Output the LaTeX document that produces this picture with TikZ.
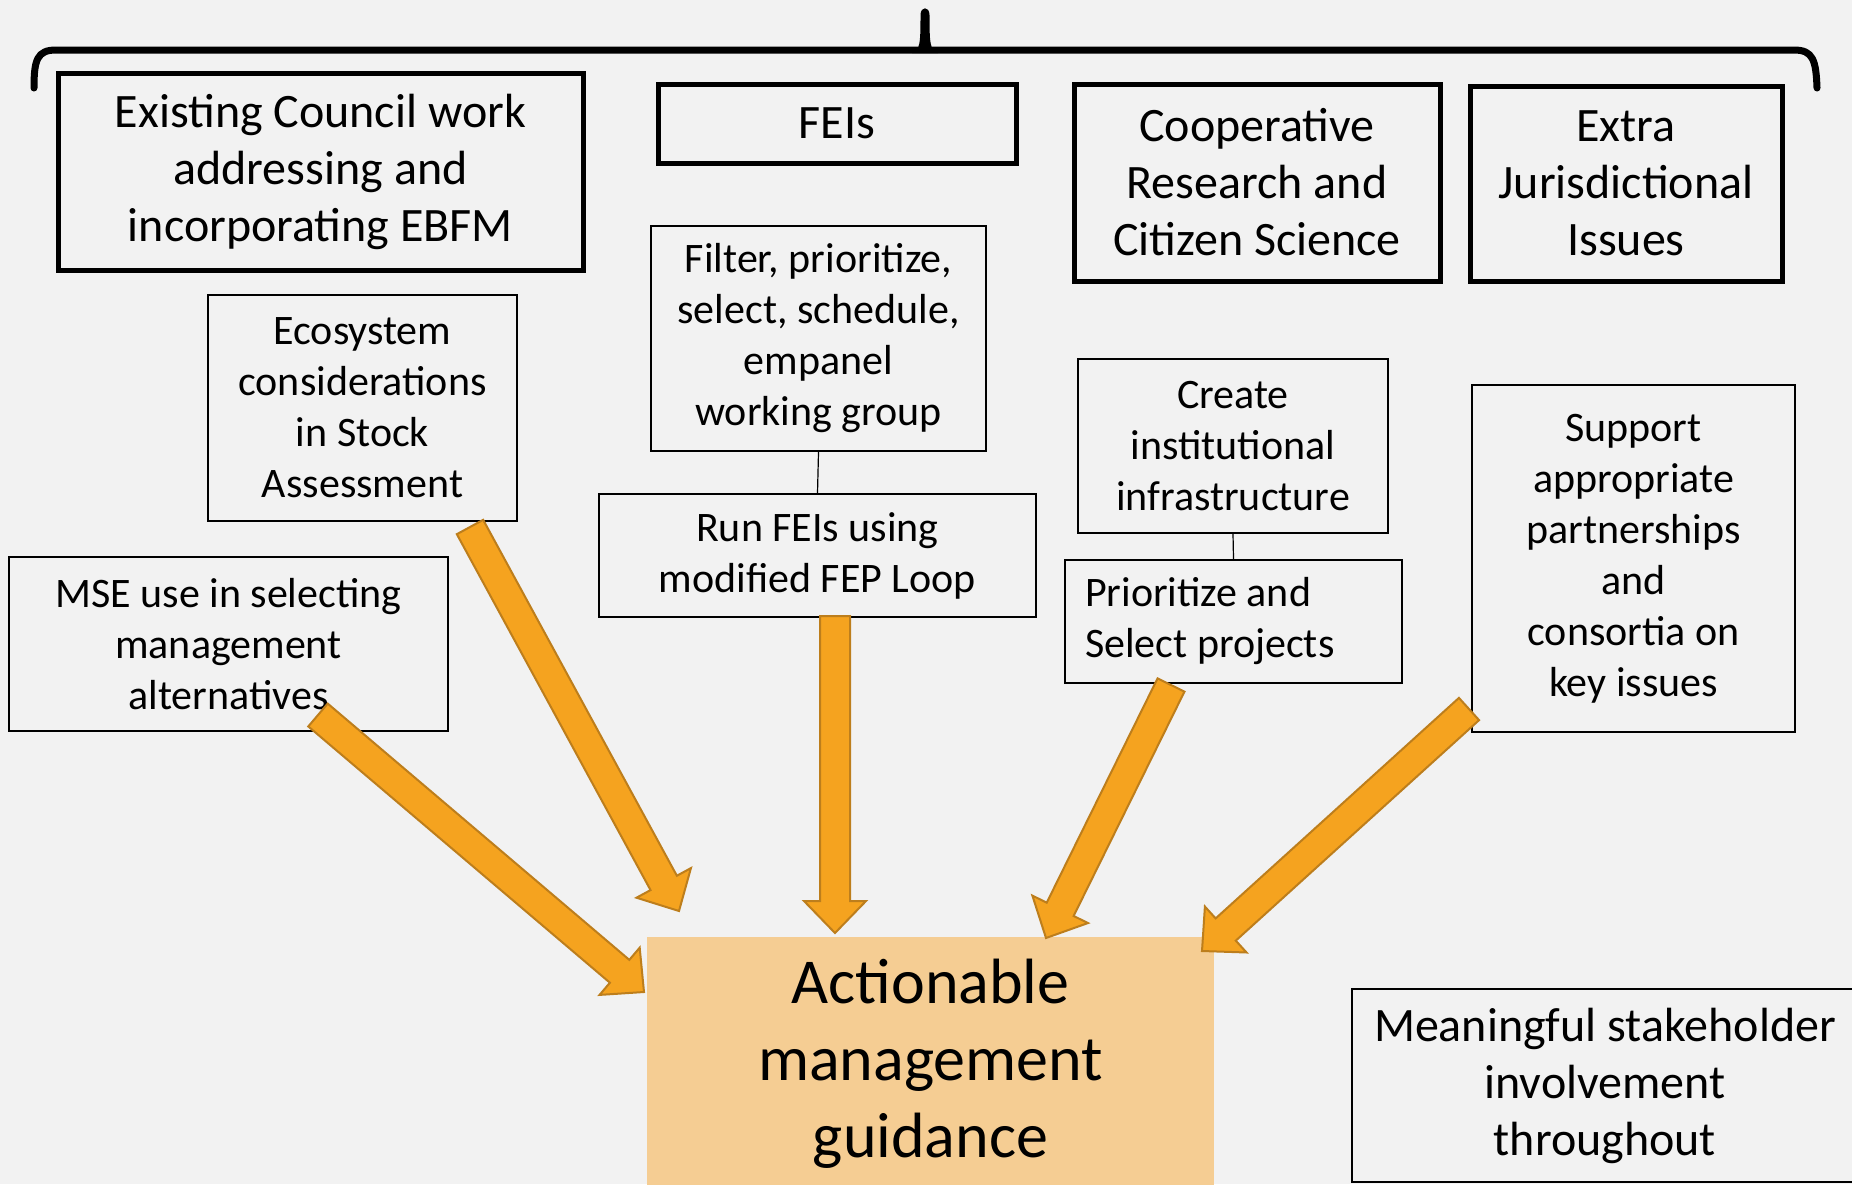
\documentclass[tikz,border=0pt]{standalone}
\usepackage{fontspec}
\setmainfont{Carlito}
\usetikzlibrary{calc}

\definecolor{bg}{HTML}{F2F2F2}
\definecolor{flowfill}{HTML}{F5A31F}
\definecolor{flowedge}{HTML}{BD7E1C}
\definecolor{goalfill}{HTML}{F5CD93}

\tikzset{
  headbox/.style={draw, line width=2.5pt, align=center, inner sep=0pt,
    font=\fontsize{24}{28.5}\selectfont},
  stepbox/.style={draw, line width=1pt, align=center, inner sep=0pt,
    font=\fontsize{21}{25.5}\selectfont},
  notebox/.style={draw, line width=1pt, align=center, inner sep=0pt,
    font=\fontsize{24}{28.5}\selectfont},
  goalbox/.style={fill=goalfill, align=center, inner sep=0pt,
    font=\fontsize{32}{38.5}\selectfont},
  link/.style={draw, line width=0.6pt},
  flowarrow/.style={fill=flowfill, draw=flowedge, line width=1pt, line join=miter},
  bracepath/.style={line width=3.5pt, line cap=round, line join=round}
}

% wide block arrow from a tail point to a tip point
\newcommand{\drawflow}[2]{%
  \coordinate (hb) at ($(#2)!16pt!(#1)$);
  \draw[flowarrow] ($(#1)!7.5pt!90:(#2)$) -- ($(hb)!7.5pt!90:(#2)$)
    -- ($(hb)!15.5pt!90:(#2)$) -- (#2) -- ($(hb)!15.5pt!-90:(#2)$)
    -- ($(hb)!7.5pt!-90:(#2)$) -- ($(#1)!7.5pt!-90:(#2)$) -- cycle;
}

\begin{document}
\begin{tikzpicture}[x=0.5pt, y=-0.5pt]
  \fill[bg] (0,0) rectangle (1852,1184);
  \useasboundingbox (0,0) rectangle (1852,1184);

  % overarching brace
  \draw[bracepath] (34,88) .. controls (34,60) and (37,50) .. (56,50)
    -- (1794,50) .. controls (1813,50) and (1816,60) .. (1817,88);
  \fill (912,53) .. controls (920,50) and (920.5,44) .. (920.5,15)
    .. controls (920.5,6) and (929.5,6) .. (929.5,15)
    .. controls (929.5,44) and (930,50) .. (938,53) -- cycle;

  % four main themes
  \node[headbox, minimum width=262.5pt, minimum height=98.5pt] (ebfm) at (320.5,171.5)
    {Existing Council work\\addressing and\\incorporating EBFM};
  \node[headbox, minimum width=179pt, minimum height=39.5pt] (feis) at (837,123.5) {FEIs};
  \node[headbox, minimum width=183pt, minimum height=98.5pt] (coop) at (1257,182.5)
    {Cooperative\\Research and\\Citizen Science};
  \node[headbox, minimum width=156pt, minimum height=97.5pt] (extra) at (1626,183.5)
    {Extra\\Jurisdictional\\Issues};

  % activities
  \node[stepbox, minimum width=154.5pt, minimum height=113pt] (eco) at (362.5,408)
    {Ecosystem\\considerations\\in Stock\\Assessment};
  \node[stepbox, minimum width=219.5pt, minimum height=87pt] (mse) at (228.5,644)
    {MSE use in selecting\\management\\alternatives};
  \node[stepbox, minimum width=167.5pt, minimum height=112.5pt] (filter) at (818.5,338.5)
    {Filter, prioritize,\\select, schedule,\\empanel\\working group};
  \node[stepbox, minimum width=218.5pt, minimum height=61.5pt] (run) at (817.5,555.5)
    {Run FEIs using\\modified FEP Loop};
  \node[stepbox, minimum width=155pt, minimum height=87pt] (create) at (1233,446)
    {Create\\institutional\\infrastructure};
  \node[stepbox, align=left, text width=148.5pt, minimum width=168.5pt, minimum height=61.5pt]
    (prior) at (1233.5,621.5) {\spaceskip=0pt\relax Prioritize and\\Select projects};
  \node[stepbox, minimum width=161.5pt, minimum height=173.5pt] (support) at (1633.5,558.5)
    {Support\\appropriate\\partnerships\\and\\consortia on\\key issues};

  % outcome and note
  \node[goalbox, minimum width=283.5pt, minimum height=126.5pt] (goal) at (930.5,1063.5)
    {Actionable\\management\\guidance};
  \node[notebox, minimum width=253pt, minimum height=96.5pt] (note) at (1605,1085.5)
    {Meaningful stakeholder\\involvement\\throughout};

  % thin links between paired steps
  \draw[link] (filter.south) -- (run.north);
  \draw[link] (create.south) -- (prior.north);

  % flows into the outcome
  \coordinate (mseTail) at (318,715);   \coordinate (mseTip) at (644,992);
  \coordinate (ecoTail) at (470,527);   \coordinate (ecoTip) at (679,911);
  \coordinate (runTail) at (835,616);   \coordinate (runTip) at (835,933);
  \coordinate (priorTail) at (1171,685); \coordinate (priorTip) at (1046,938);
  \coordinate (supTail) at (1469,709);  \coordinate (supTip) at (1202,951);
  \drawflow{mseTail}{mseTip}
  \drawflow{ecoTail}{ecoTip}
  \drawflow{runTail}{runTip}
  \drawflow{priorTail}{priorTip}
  \drawflow{supTail}{supTip}
\end{tikzpicture}
\end{document}
